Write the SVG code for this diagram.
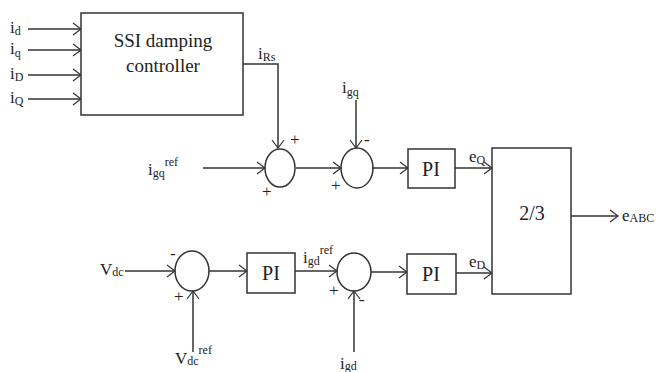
<svg xmlns="http://www.w3.org/2000/svg" width="656" height="372" viewBox="0 0 656 372" font-family="'Liberation Serif','Times New Roman',serif">
<defs>
<style>
.b{fill:#fff;stroke:#333;stroke-width:1.5}
.c{fill:none;stroke:#333;stroke-width:1.5}
.w{fill:none;stroke:#333;stroke-width:1.5;marker-end:url(#a)}
text{font-family:"Liberation Serif","Times New Roman",serif;fill:#222}
.t{font-size:19px}
.pi{font-size:20px}
.l{font-size:17px}
.s{font-size:12px}
.sg{font-size:17px}
</style>
<marker id="a" viewBox="-10 -8 12 16" markerWidth="12" markerHeight="16" refX="0" refY="0" orient="auto" markerUnits="userSpaceOnUse">
<path d="M-8,-6 L0,0 L-8,6" fill="none" stroke="#333" stroke-width="1.2"/>
</marker>
</defs>
<rect width="656" height="372" fill="#fff"/>
<g id="connectors">
<path class="w" d="M28,29 H81"/>
<path class="w" d="M28,50 H81"/>
<path class="w" d="M28,75 H81"/>
<path class="w" d="M28,99 H81"/>
<path class="w" d="M243,64 H278 V148"/>
<path class="w" d="M203,168 H265"/>
<path class="w" d="M296,168 H341"/>
<path class="w" d="M356,100 V148"/>
<path class="w" d="M372,168 H408"/>
<path class="w" d="M455,168 H492"/>
<path class="w" d="M571,216 H618"/>
<path class="w" d="M125,271 H175"/>
<path class="w" d="M193,352 V291"/>
<path class="w" d="M209,271 H247"/>
<path class="w" d="M295,271 H337"/>
<path class="w" d="M354,352 V291"/>
<path class="w" d="M371,272 H407"/>
<path class="w" d="M456,273 H492"/>
</g>
<g id="ssi">
<rect class="b" x="81" y="13" width="162" height="102"/>
<text class="t" x="163" y="47" text-anchor="middle">SSI damping</text>
<text class="t" x="163" y="72" text-anchor="middle">controller</text>
</g>
<g id="sum1">
<ellipse class="c" cx="280" cy="168" rx="15" ry="19"/>
<text class="sg" x="290" y="145">+</text>
<text class="sg" x="262" y="197">+</text>
</g>
<g id="sum2">
<ellipse class="c" cx="357" cy="168" rx="16" ry="20"/>
<text class="sg" x="364" y="145">-</text>
<text class="sg" x="331" y="191">+</text>
</g>
<g id="pi1">
<rect class="b" x="408" y="149" width="47" height="39"/>
<text class="pi" x="431" y="176" text-anchor="middle">PI</text>
</g>
<g id="sum3">
<ellipse class="c" cx="192" cy="271" rx="17" ry="20"/>
<text class="sg" x="170" y="259">-</text>
<text class="sg" x="174" y="302">+</text>
</g>
<g id="pi2">
<rect class="b" x="247" y="253" width="48" height="40"/>
<text class="pi" x="271" y="280" text-anchor="middle">PI</text>
</g>
<g id="sum4">
<ellipse class="c" cx="354" cy="272" rx="17" ry="19"/>
<text class="sg" x="329" y="296">+</text>
<text class="sg" x="359" y="305">-</text>
</g>
<g id="pi3">
<rect class="b" x="407" y="254" width="49" height="40"/>
<text class="pi" x="431" y="281" text-anchor="middle">PI</text>
</g>
<g id="conv">
<rect class="b" x="492" y="148" width="79" height="146"/>
<text class="pi" x="532" y="220" text-anchor="middle">2/3</text>
</g>
<g id="labels">
<text class="l" x="10" y="33">i<tspan class="s" dy="2">d</tspan></text>
<text class="l" x="10" y="54">i<tspan class="s" dy="3">q</tspan></text>
<text class="l" x="10" y="79">i<tspan class="s" dy="2">D</tspan></text>
<text class="l" x="10" y="103">i<tspan class="s" dy="2">Q</tspan></text>
<text class="l" x="258" y="59">i<tspan class="s" dy="2">Rs</tspan></text>
<text class="l" x="342" y="93">i<tspan class="s" dy="3">gq</tspan></text>
<text class="l" x="148" y="175">i<tspan class="s" dy="2">gq</tspan><tspan class="s" dy="-11">ref</tspan></text>
<text class="l" x="469" y="162">e<tspan class="s" dy="2">Q</tspan></text>
<text class="l" x="469" y="267">e<tspan class="s" dy="2">D</tspan></text>
<text class="l" x="622" y="221">e<tspan class="s" dy="1">ABC</tspan></text>
<text class="l" x="100" y="275">V<tspan class="s" dy="1">dc</tspan></text>
<text class="l" x="175" y="364">V<tspan class="s" dy="1">dc</tspan><tspan class="s" dy="-11">ref</tspan></text>
<text class="l" x="303" y="263">i<tspan class="s" dy="2">gd</tspan><tspan class="s" dy="-11">ref</tspan></text>
<text class="l" x="340" y="369">i<tspan class="s" dy="1">gd</tspan></text>
</g>
</svg>
